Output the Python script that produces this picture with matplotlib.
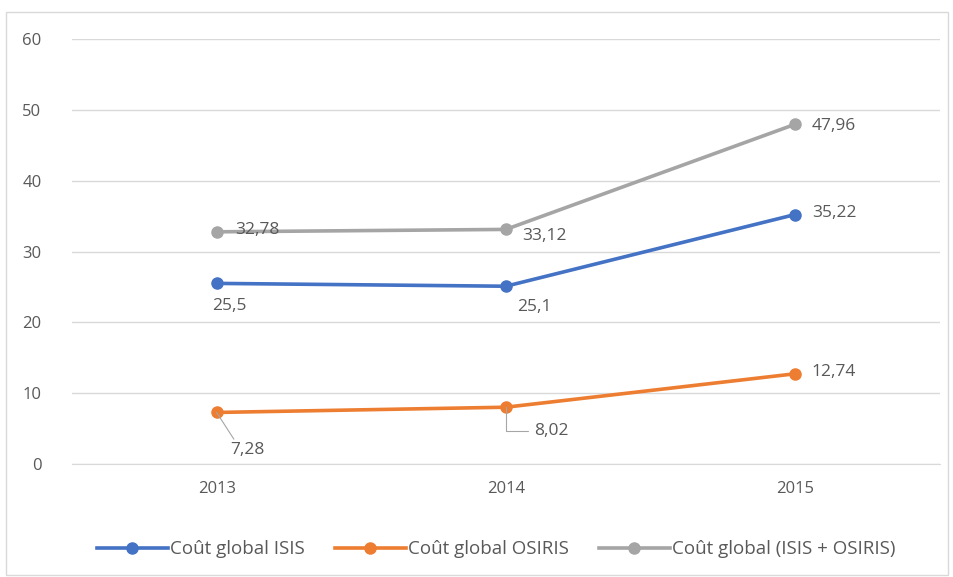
import matplotlib.pyplot as plt
from matplotlib.patches import Rectangle

# --- données ---
annees = ['2013', '2014', '2015']
cout_isis = [25.5, 25.1, 35.22]
cout_osiris = [7.28, 8.02, 12.74]
cout_total = [32.78, 33.12, 47.96]
noms = ['Coût global ISIS', 'Coût global OSIRIS', 'Coût global (ISIS + OSIRIS)']

BLEU = '#4472C4'
ORANGE = '#ED7D31'
GRIS = '#A5A5A5'
TEXTE = '#595959'

plt.rcParams['font.family'] = ['Open Sans', 'DejaVu Sans']

fig = plt.figure(figsize=(9.54, 5.77), dpi=100)
ax = fig.add_axes([0.0755, 0.1958, 0.9095, 0.7366])

# cadre du graphique
fig.patches.append(Rectangle((0.006, 0.004), 0.988, 0.975, transform=fig.transFigure,
                             fill=False, edgecolor='#D9D9D9', lw=1))

x = [i + 0.5 for i in range(len(annees))]
series = [(cout_isis, BLEU), (cout_osiris, ORANGE), (cout_total, GRIS)]
for (vals, coul), nom in zip(series, noms):
    ax.plot(x, vals, '-o', color=coul, lw=2.6, ms=8, label=nom, zorder=3)

def fmt(v):
    return f'{v:g}'.replace('.', ',')

kw = dict(fontsize=12.5, color=TEXTE, va='center')
# étiquettes des points
ax.annotate(fmt(cout_total[0]), (x[0], cout_total[0]), xytext=(13, 1), textcoords='offset points', **kw)
ax.annotate(fmt(cout_total[1]), (x[1], cout_total[1]), xytext=(12, -5), textcoords='offset points', **kw)
ax.annotate(fmt(cout_total[2]), (x[2], cout_total[2]), xytext=(12, -1), textcoords='offset points', **kw)
ax.annotate(fmt(cout_isis[0]), (x[0], cout_isis[0]), xytext=(-3, -16), textcoords='offset points', **kw)
ax.annotate(fmt(cout_isis[1]), (x[1], cout_isis[1]), xytext=(8, -15), textcoords='offset points', **kw)
ax.annotate(fmt(cout_isis[2]), (x[2], cout_isis[2]), xytext=(12, 1), textcoords='offset points', **kw)
ax.annotate(fmt(cout_osiris[2]), (x[2], cout_osiris[2]), xytext=(12, 1), textcoords='offset points', **kw)
# étiquettes avec ligne de rappel
ax.annotate(fmt(cout_osiris[0]), (x[0], cout_osiris[0]), xytext=(10, -27), textcoords='offset points',
            arrowprops=dict(arrowstyle='-', color='#A6A6A6', lw=0.8, shrinkA=0, shrinkB=0,
                            relpos=(0.15, 1.0)), **kw)
ax.annotate(fmt(cout_osiris[1]), (x[1], cout_osiris[1]), xytext=(20, -17), textcoords='offset points',
            arrowprops=dict(arrowstyle='-', color='#A6A6A6', lw=0.8, shrinkA=2, shrinkB=0,
                            relpos=(0, 0.5), connectionstyle='angle,angleA=0,angleB=90,rad=0'), **kw)

ax.set_xlim(0, 3)
ax.set_ylim(0, 60)
ax.set_yticks(range(0, 61, 10))
ax.set_xticks(x)
ax.set_xticklabels(annees)
ax.grid(axis='y', color='#D9D9D9', lw=1)
ax.set_axisbelow(True)
for s in ['top', 'right', 'left']:
    ax.spines[s].set_visible(False)
ax.spines['bottom'].set_color('#D9D9D9')
ax.tick_params(length=0, labelsize=12, labelcolor=TEXTE, pad=12)
ax.tick_params(axis='y', pad=22)

leg = fig.legend(loc='center', bbox_to_anchor=(0.52, 0.048), ncol=3, frameon=False,
                 fontsize=13.5, handlelength=3.8, handletextpad=0.1, columnspacing=1.6)
for t in leg.get_texts():
    t.set_color(TEXTE)

fig.savefig('out.png', dpi=100)
